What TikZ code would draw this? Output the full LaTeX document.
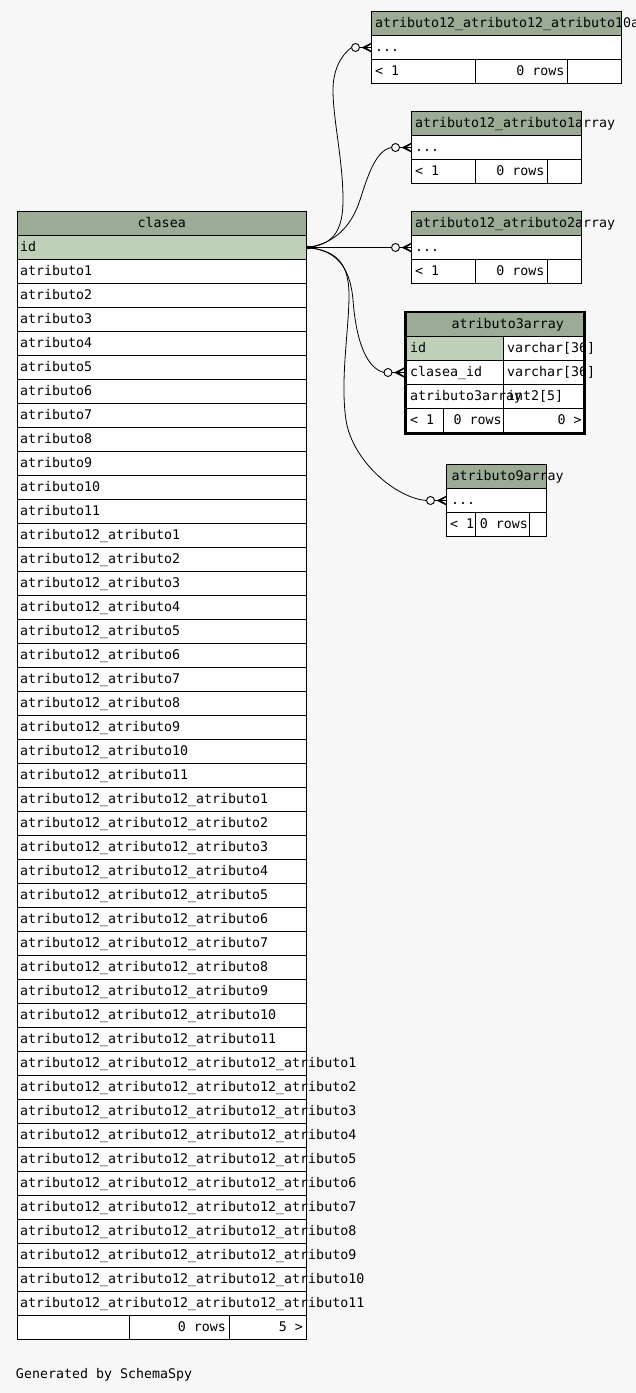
\documentclass[tikz,border=0pt]{standalone}
\usepackage{fontspec}
\newfontfamily\dbf{DejaVu Sans Mono}
\definecolor{bg}{HTML}{F7F7F7}
\definecolor{hdr}{HTML}{9BAB96}
\definecolor{pk}{HTML}{BED1B8}
\newcommand{\crowmark}[3]{%
  \fill ({#2-10},#3) -- (#2,{#3-5}) -- (#2,{#3-3.5}) -- ({#2-5.5},#3) -- (#2,{#3+3.5}) -- (#2,{#3+5}) -- cycle;
  \node[ocirc] (#1) at ({#2-16},#3) {};
  \draw (#1.east) -- (#2,#3);
}
\begin{document}
\begin{tikzpicture}[x=1pt,y=-1pt,
  cell/.style={draw=black, line width=1pt, fill=white, inner sep=0pt, outer sep=0pt, anchor=north west, minimum height=24pt},
  hcell/.style={cell, fill=hdr},
  pcell/.style={cell, fill=pk},
  txt/.style={font=\dbf\fontsize{13.3}{16}\selectfont, inner sep=0pt, outer sep=0pt, anchor=base west},
  rtxt/.style={txt, anchor=base east},
  ctxt/.style={txt, anchor=base},
  ocirc/.style={circle, draw=black, line width=0.9pt, fill=bg, minimum size=8pt, inner sep=0pt, outer sep=0pt},
  edge/.style={draw=black, line width=0.8pt}]
\useasboundingbox (0,0) rectangle (636,1393);
\fill[bg] (0,0) rectangle (636,1393);
\clip (0,0) rectangle (636,1393);

% ---------------- clasea ----------------
\node[hcell, minimum width=289pt] (clh) at (17.5,211.5) {};
\node[ctxt] (clht) at (161.75,227.5) {clasea};
\node[pcell, minimum width=289pt] (cl0) at (17.5,235.5) {};
\node[txt] (cl0t) at (20,251.5) {id};
\foreach \p [count=\k from 0] in {atributo,atributo12\_atributo,atributo12\_atributo12\_atributo,atributo12\_atributo12\_atributo12\_atributo}{
  \foreach \n in {1,...,11}{
    \pgfmathtruncatemacro{\i}{1+11*\k+\n-1}
    \node[cell, minimum width=289pt] (cl\i) at (17.5,{235.5+24*\i}) {};
  }
}
\foreach \p [count=\k from 0] in {atributo,atributo12\_atributo,atributo12\_atributo12\_atributo,atributo12\_atributo12\_atributo12\_atributo}{
  \foreach \n in {1,...,11}{
    \pgfmathtruncatemacro{\i}{1+11*\k+\n-1}
    \node[txt] (cl\i t) at (20,{251.5+24*\i}) {\p\n};
  }
}
\node[cell, minimum width=111.5pt] (clf1) at (17.5,1315.5) {};
\node[cell, minimum width=100pt] (clf2) at (129,1315.5) {};
\node[cell, minimum width=77pt] (clf3) at (229,1315.5) {};
\node[rtxt] (clf2t) at (226,1331.5) {0 rows};
\node[rtxt] (clf3t) at (303,1331.5) {5 >};

% ---------------- table 1 ----------------
\node[hcell, minimum width=249.5pt] (t1h) at (371.5,11.5) {};
\node[cell, minimum width=249.5pt] (t1r) at (371.5,35.5) {};
\node[cell, minimum width=104pt] (t1f1) at (371.5,59.5) {};
\node[cell, minimum width=91.5pt] (t1f2) at (475.5,59.5) {};
\node[cell, minimum width=54pt] (t1f3) at (567,59.5) {};
\node[txt] (t1ht) at (375,27.5) {atributo12\_atributo12\_atributo10array};
\node[txt] (t1rt) at (375,51.5) {...};
\node[txt] (t1f1t) at (375,75.5) {< 1};
\node[rtxt] (t1f2t) at (564.5,75.5) {0 rows};

% ---------------- table 2 ----------------
\node[hcell, minimum width=170pt] (t2h) at (411.5,111.5) {};
\node[cell, minimum width=170pt] (t2r) at (411.5,135.5) {};
\node[cell, minimum width=64pt] (t2f1) at (411.5,159.5) {};
\node[cell, minimum width=71.5pt] (t2f2) at (475.5,159.5) {};
\node[cell, minimum width=34.5pt] (t2f3) at (547,159.5) {};
\node[txt] (t2ht) at (415,127.5) {atributo12\_atributo1array};
\node[txt] (t2rt) at (415,151.5) {...};
\node[txt] (t2f1t) at (415,175.5) {< 1};
\node[rtxt] (t2f2t) at (544.5,175.5) {0 rows};

% ---------------- table 3 ----------------
\node[hcell, minimum width=170pt] (t3h) at (411.5,211.5) {};
\node[cell, minimum width=170pt] (t3r) at (411.5,235.5) {};
\node[cell, minimum width=64pt] (t3f1) at (411.5,259.5) {};
\node[cell, minimum width=71.5pt] (t3f2) at (475.5,259.5) {};
\node[cell, minimum width=34.5pt] (t3f3) at (547,259.5) {};
\node[txt] (t3ht) at (415,227.5) {atributo12\_atributo2array};
\node[txt] (t3rt) at (415,251.5) {...};
\node[txt] (t3f1t) at (415,275.5) {< 1};
\node[rtxt] (t3f2t) at (544.5,275.5) {0 rows};

% ---------------- table 4 ----------------
\node[hcell, minimum width=178pt] (t4h) at (406.5,312.5) {};
\node[pcell, minimum width=97pt] (t4a1) at (406.5,336.5) {};
\node[cell, minimum width=81pt] (t4a2) at (503.5,336.5) {};
\node[cell, minimum width=97pt] (t4b1) at (406.5,360.5) {};
\node[cell, minimum width=81pt] (t4b2) at (503.5,360.5) {};
\node[cell, minimum width=97pt] (t4c1) at (406.5,384.5) {};
\node[cell, minimum width=81pt] (t4c2) at (503.5,384.5) {};
\node[cell, minimum width=36.5pt] (t4f1) at (406.5,408.5) {};
\node[cell, minimum width=60.5pt] (t4f2) at (443,408.5) {};
\node[cell, minimum width=81pt] (t4f3) at (503.5,408.5) {};
\node[txt] (t4ht) at (451.7,328.5) {atributo3array};
\node[txt] (t4a1t) at (410,352.5) {id};
\node[txt] (t4a2t) at (507,352.5) {varchar[36]};
\node[txt] (t4b1t) at (410,376.5) {clasea\_id};
\node[txt] (t4b2t) at (507,376.5) {varchar[36]};
\node[txt] (t4c1t) at (410,400.5) {atributo3array};
\node[txt] (t4c2t) at (507,400.5) {int2[5]};
\node[txt] (t4f1t) at (410,424.5) {< 1};
\node[rtxt] (t4f2t) at (501.7,424.5) {0 rows};
\node[rtxt] (t4f3t) at (581.7,424.5) {0 >};
\node[draw=black, line width=2.7pt, minimum width=179.3pt, minimum height=121.6pt, inner sep=0pt, outer sep=0pt, anchor=north west] (t4) at (405.35,312.05) {};

% ---------------- table 5 ----------------
\node[hcell, minimum width=100pt] (t5h) at (446.5,464.5) {};
\node[cell, minimum width=100pt] (t5r) at (446.5,488.5) {};
\node[cell, minimum width=29pt] (t5f1) at (446.5,512.5) {};
\node[cell, minimum width=54pt] (t5f2) at (475.5,512.5) {};
\node[cell, minimum width=17pt] (t5f3) at (529.5,512.5) {};
\node[txt] (t5ht) at (451.5,480.5) {atributo9array};
\node[txt] (t5rt) at (451,504.5) {...};
\node[txt] (t5f1t) at (450,528.5) {< 1};
\node[rtxt] (t5f2t) at (528,528.5) {0 rows};

% ---------------- connectors ----------------
\coordinate (src) at (307,247.5);
\fill (307,245.8) -- (316,247) -- (316,248) -- (307,249.2) -- cycle;
\crowmark{e1}{371.5}{47.5}
\crowmark{e2}{411.5}{147.5}
\crowmark{e3}{411.5}{247.5}
\crowmark{e4}{404}{372.5}
\crowmark{e5}{446.5}{500.5}
\draw[edge] (src) .. controls (330,245) and (343,235) .. (343,200)
  .. controls (343,160) and (333,120) .. (333,90)
  .. controls (333,70) and (341,55) .. (e1.west);
\draw[edge] (src) .. controls (335,244) and (352,225) .. (360,200)
  .. controls (368,175) and (376,150) .. (e2.west);
\draw[edge] (src) -- (e3.west);
\draw[edge] (src) .. controls (335,250) and (350,265) .. (353,300)
  .. controls (356,340) and (366,368) .. (e4.west);
\draw[edge] (src) .. controls (335,250) and (349,262) .. (349,295)
  .. controls (349,330) and (340,380) .. (346,420)
  .. controls (352,460) and (395,498) .. (e5.west);

\node[txt] (gen) at (16,1378) {Generated by SchemaSpy};
\end{tikzpicture}
\end{document}
